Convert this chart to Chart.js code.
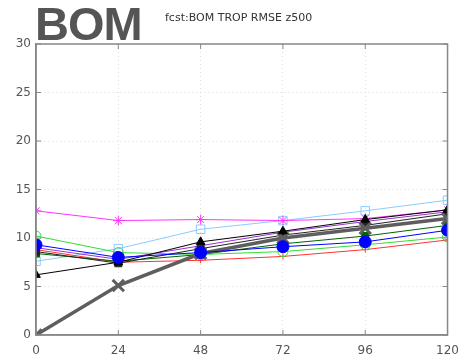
<!DOCTYPE html>
<html>
<head>
<meta charset="utf-8">
<script src="https://cdn.jsdelivr.net/npm/chart.js@4/dist/chart.umd.min.js"></script>
<style>
  html, body { margin: 0; padding: 0; background: #fff; }
  #wrap { position: relative; width: 468px; height: 360px; }
  #big { position: absolute; left: 35px; top: -4px; font: bold 47px "Liberation Sans", Arial, sans-serif; color: #555; letter-spacing: -1px; z-index: 2; }
  #sub { position: absolute; left: 165px; top: 11px; font: 11px "DejaVu Sans", sans-serif; color: #333; z-index: 2; }
</style>
</head>
<body>
<div id="wrap">
  <div id="big">BOM</div>
  <div id="sub">fcst:BOM TROP RMSE z500</div>
  <canvas id="c" width="468" height="360"></canvas>
</div>
<script>
// forecast hours
const leadHours = [0, 24, 48, 72, 96, 120];
const yTicks = [0, 5, 10, 15, 20, 25, 30];

// RMSE values per model
const blueCircle   = [9.3, 8.0, 8.5, 9.1, 9.6, 10.8];
const blackTri     = [6.2, 7.5, 9.6, 10.7, 11.9, 12.9];
const grayThick    = [0.0, 5.1, 8.4, 10.0, 11.0, 12.0];
const blackSquare  = [8.6, 7.4, 8.9, 10.3, 11.3, 12.5];
const darkGreenSq  = [8.4, 7.6, 8.3, 9.4, 10.2, 11.3];
const greenCircle  = [10.2, 8.5, 8.3, 8.6, 9.3, 10.1];
const redPlus      = [8.8, 7.5, 7.7, 8.1, 8.8, 9.8];
const purpleLine   = [9.0, 7.8, 9.2, 10.6, 11.7, 12.7];
const magentaStar  = [12.8, 11.8, 11.9, 11.8, 12.0, 12.9];
const cyanSquare   = [7.6, 8.9, 10.9, 11.8, 12.8, 13.9];

function pts(vals) {
  return vals.map((v, i) => ({ x: leadHours[i], y: v }));
}

function series(vals, color, style, radius, width, filled, markerWidth) {
  return {
    data: pts(vals),
    borderColor: color,
    backgroundColor: filled ? color : 'rgba(0,0,0,0)',
    pointBorderColor: color,
    pointBackgroundColor: filled ? color : 'rgba(0,0,0,0)',
    pointStyle: style,
    pointRadius: radius,
    pointBorderWidth: markerWidth || 1,
    borderWidth: width,
    tension: 0
  };
}

const ctx = document.getElementById('c').getContext('2d');
new Chart(ctx, {
  type: 'line',
  data: {
    datasets: [
      series(blueCircle, '#0000ff', 'circle', 6, 1, true),
      series(blackTri, '#000000', 'triangle', 5, 1, true),
      series(grayThick, '#5e5e5e', 'crossRot', 8, 3.5, false, 3),
      series(blackSquare, '#222222', 'rect', 5, 1, true),
      series(darkGreenSq, '#006400', 'rect', 5, 1, true),
      series(greenCircle, '#33dd33', 'circle', 5, 1, false),
      series(redPlus, '#ff3333', 'cross', 3, 1, false),
      series(purpleLine, '#9933cc', 'circle', 0, 1, false),
      series(magentaStar, '#ff33ff', 'star', 5, 1, false),
      series(cyanSquare, '#88ccff', 'rect', 6, 1, false)
    ]
  },
  options: {
    responsive: false,
    animation: false,
    layout: { padding: { top: 44, right: 15, left: 0, bottom: 0 } },
    plugins: { legend: { display: false }, tooltip: { enabled: false } },
    scales: {
      x: {
        type: 'linear',
        min: 0,
        max: 120,
        afterBuildTicks: s => { s.ticks = leadHours.map(v => ({ value: v })); },
        afterFit: s => { s.height = 25; },
        grid: { color: '#dddddd', drawTicks: false },
        border: { color: '#888', width: 1.5, dash: [1, 3] },
        ticks: { color: '#555', font: { size: 12, family: 'DejaVu Sans' }, padding: 9 }
      },
      y: {
        min: 0,
        max: 30,
        afterBuildTicks: s => { s.ticks = yTicks.map(v => ({ value: v })); },
        afterFit: s => { s.width = 36; },
        grid: { color: '#dddddd', drawTicks: false },
        border: { color: '#888', width: 1.5, dash: [1, 3] },
        ticks: { color: '#555', font: { size: 12, family: 'DejaVu Sans' }, padding: 5 }
      }
    }
  },
  plugins: [{
    // full box frame with small inward ticks, gnuplot style
    id: 'frame',
    afterDraw(chart) {
      const a = chart.chartArea;
      const c = chart.ctx;
      const xs = chart.scales.x, ys = chart.scales.y;
      c.save();
      c.strokeStyle = '#888';
      c.lineWidth = 1.5;
      c.strokeRect(a.left, a.top, a.right - a.left, a.bottom - a.top);
      c.lineWidth = 1;
      c.beginPath();
      leadHours.forEach(v => {
        const px = xs.getPixelForValue(v);
        c.moveTo(px, a.bottom); c.lineTo(px, a.bottom - 5);
        c.moveTo(px, a.top); c.lineTo(px, a.top + 5);
      });
      yTicks.forEach(v => {
        const py = ys.getPixelForValue(v);
        c.moveTo(a.left, py); c.lineTo(a.left + 5, py);
        c.moveTo(a.right, py); c.lineTo(a.right - 5, py);
      });
      c.stroke();
      c.restore();
    }
  }]
});
</script>
</body>
</html>
